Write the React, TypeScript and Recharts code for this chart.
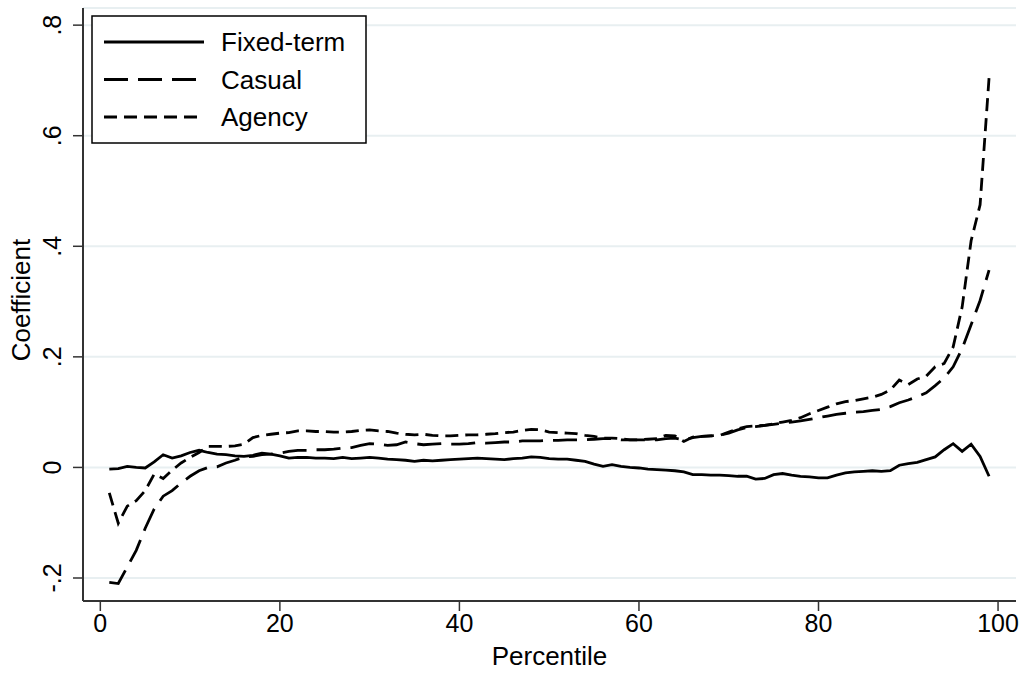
import { CartesianGrid, Legend, Line, LineChart, XAxis, YAxis } from 'recharts';

const percentiles = [
  1, 2, 3, 4, 5, 6, 7, 8, 9, 10, 11, 12, 13, 14, 15, 16, 17, 18, 19, 20,
  21, 22, 23, 24, 25, 26, 27, 28, 29, 30, 31, 32, 33, 34, 35, 36, 37, 38, 39, 40,
  41, 42, 43, 44, 45, 46, 47, 48, 49, 50, 51, 52, 53, 54, 55, 56, 57, 58, 59, 60,
  61, 62, 63, 64, 65, 66, 67, 68, 69, 70, 71, 72, 73, 74, 75, 76, 77, 78, 79, 80,
  81, 82, 83, 84, 85, 86, 87, 88, 89, 90, 91, 92, 93, 94, 95, 96, 97, 98, 99,
];

const fixedTerm = [
  -0.003, -0.002, 0.002, 0.0, -0.001, 0.01, 0.023, 0.017, 0.021, 0.027,
  0.031, 0.027, 0.024, 0.023, 0.021, 0.02, 0.022, 0.026, 0.024, 0.021,
  0.017, 0.018, 0.018, 0.017, 0.017, 0.016, 0.018, 0.016, 0.017, 0.018,
  0.017, 0.015, 0.014, 0.013, 0.011, 0.013, 0.012, 0.013, 0.014, 0.015,
  0.016, 0.017, 0.016, 0.015, 0.014, 0.016, 0.017, 0.019, 0.018, 0.016,
  0.015, 0.015, 0.013, 0.011, 0.006, 0.002, 0.005, 0.002, 0.0, -0.001,
  -0.003, -0.004, -0.005, -0.006, -0.008, -0.013, -0.013, -0.014, -0.014, -0.015,
  -0.016, -0.016, -0.021, -0.02, -0.013, -0.011, -0.014, -0.016, -0.017, -0.019,
  -0.019, -0.014, -0.01, -0.008, -0.007, -0.006, -0.007, -0.006, 0.004, 0.007,
  0.009, 0.014, 0.019, 0.032, 0.043, 0.029, 0.042, 0.02, -0.016,
];

const casual = [
  -0.208, -0.21, -0.18, -0.15, -0.11, -0.075, -0.052, -0.042, -0.028, -0.016,
  -0.006, 0.0, 0.001, 0.008, 0.013, 0.019, 0.02, 0.023, 0.024, 0.026,
  0.029, 0.031, 0.031, 0.032, 0.032, 0.033, 0.035, 0.036, 0.04, 0.043,
  0.042, 0.04, 0.041, 0.046, 0.043, 0.041, 0.042, 0.043, 0.042, 0.042,
  0.043, 0.045, 0.044, 0.045, 0.046, 0.046, 0.048, 0.048, 0.048, 0.049,
  0.049, 0.05, 0.05, 0.05, 0.051, 0.052, 0.052, 0.05, 0.05, 0.05,
  0.05, 0.05, 0.052, 0.053, 0.05, 0.054, 0.056, 0.057, 0.058, 0.062,
  0.068, 0.072, 0.074, 0.076, 0.078, 0.08, 0.082, 0.084, 0.087, 0.09,
  0.093, 0.096, 0.098, 0.1, 0.101, 0.103, 0.105, 0.11, 0.117, 0.122,
  0.128, 0.135, 0.148, 0.162, 0.182, 0.215, 0.258, 0.302, 0.357,
];

const agency = [
  -0.046, -0.101, -0.07, -0.06, -0.042, -0.012, -0.02, -0.005, 0.008, 0.018,
  0.027, 0.038, 0.038, 0.038, 0.039, 0.042, 0.054, 0.058, 0.06, 0.062,
  0.063, 0.066, 0.066, 0.065, 0.065, 0.064, 0.064, 0.065, 0.067, 0.068,
  0.066, 0.065, 0.062, 0.06, 0.059, 0.06, 0.058, 0.057, 0.057, 0.058,
  0.059, 0.059, 0.06, 0.061, 0.063, 0.064, 0.067, 0.069, 0.068, 0.064,
  0.063, 0.062, 0.061, 0.058, 0.056, 0.053, 0.053, 0.052, 0.05, 0.05,
  0.051, 0.052, 0.058, 0.057, 0.047, 0.055, 0.056, 0.057, 0.058, 0.064,
  0.07, 0.074, 0.075, 0.076, 0.079, 0.082, 0.085, 0.09, 0.097, 0.103,
  0.109, 0.115, 0.119, 0.121, 0.124, 0.127, 0.132, 0.14, 0.158, 0.15,
  0.16, 0.165, 0.182, 0.188, 0.218, 0.29, 0.41, 0.475, 0.705,
];

const xTicks = [0, 20, 40, 60, 80, 100];
const yTicks = [-0.2, 0, 0.2, 0.4, 0.6, 0.8];
const yTickLabels = ['-.2', '0', '.2', '.4', '.6', '.8'];

const data = percentiles.map((p, i) => ({
  pct: p,
  fixed: fixedTerm[i],
  casual: casual[i],
  agency: agency[i],
}));

const FONT = '"Liberation Sans", Arial, sans-serif';
const AXIS = '#333333';

const series = [
  { key: 'fixed', name: 'Fixed-term', dash: undefined as string | undefined },
  { key: 'casual', name: 'Casual', dash: '24 10' },
  { key: 'agency', name: 'Agency', dash: '13 7' },
];

function XTick({ x, y, payload }: any) {
  return (
    <text x={x} y={y + 10} textAnchor="middle" dominantBaseline="central" fontSize={25} fontFamily={FONT} fill="#000">
      {payload.value}
    </text>
  );
}

function YTick({ y, payload }: any) {
  const i = yTicks.findIndex((t) => Math.abs(t - payload.value) < 1e-6);
  const lx = 52;
  return (
    <text
      x={lx}
      y={y}
      transform={`rotate(-90, ${lx}, ${y})`}
      textAnchor="middle"
      dominantBaseline="central"
      fontSize={25}
      fontFamily={FONT}
      fill="#000"
    >
      {i >= 0 ? yTickLabels[i] : payload.value}
    </text>
  );
}

function LegendBox() {
  return (
    <svg width={276} height={129} style={{ display: 'block' }}>
      <rect x={1} y={1} width={274} height={127} fill="#fff" stroke="#000" strokeWidth={1.5} />
      {series.map((s, i) => {
        const cy = 27 + i * 37.5;
        return (
          <g key={s.key}>
            <line x1={13} x2={113} y1={cy} y2={cy} stroke="#000" strokeWidth={3} strokeDasharray={s.dash} />
            <text x={130} y={cy} dominantBaseline="central" fontSize={26} fontFamily={FONT} fill="#000">
              {s.name}
            </text>
          </g>
        );
      })}
    </svg>
  );
}

export default function App() {
  return (
    <div style={{ position: 'absolute', left: 0, top: 0, width: 1025, height: 675, background: '#fff' }}>
      <LineChart width={1025} height={675} data={data} margin={{ top: 8, right: 9, left: 0, bottom: 0 }}>
        <CartesianGrid vertical={false} stroke="#e8eff1" strokeWidth={2} />
        <XAxis
          dataKey="pct"
          type="number"
          domain={[-1.93, 102]}
          allowDataOverflow
          ticks={xTicks}
          height={74}
          tickSize={10}
          tick={<XTick />}
          axisLine={{ stroke: AXIS, strokeWidth: 2 }}
          tickLine={{ stroke: AXIS, strokeWidth: 1.5 }}
          label={{ value: 'Percentile', position: 'insideBottom', offset: 10, fontSize: 26, fontFamily: FONT, fill: '#000' }}
        />
        <YAxis
          type="number"
          domain={[-0.2416, 0.831]}
          allowDataOverflow
          ticks={yTicks}
          width={83}
          tickSize={10}
          tick={<YTick />}
          axisLine={{ stroke: AXIS, strokeWidth: 2 }}
          tickLine={{ stroke: AXIS, strokeWidth: 1.5 }}
          label={{
            content: () => (
              <text
                x={21}
                y={300}
                transform="rotate(-90, 21, 300)"
                textAnchor="middle"
                dominantBaseline="central"
                fontSize={26}
                fontFamily={FONT}
                fill="#000"
              >
                Coefficient
              </text>
            ),
          }}
        />
        <Legend
          layout="vertical"
          align="center"
          verticalAlign="middle"
          content={() => <LegendBox />}
          wrapperStyle={{ left: 91, top: 15, width: 276, height: 129 }}
        />
        {series.map((s) => (
          <Line
            key={s.key}
            dataKey={s.key}
            name={s.name}
            type="linear"
            stroke="#000"
            strokeWidth={2.8}
            strokeDasharray={s.dash}
            dot={false}
            activeDot={false}
            isAnimationActive={false}
          />
        ))}
      </LineChart>
    </div>
  );
}
